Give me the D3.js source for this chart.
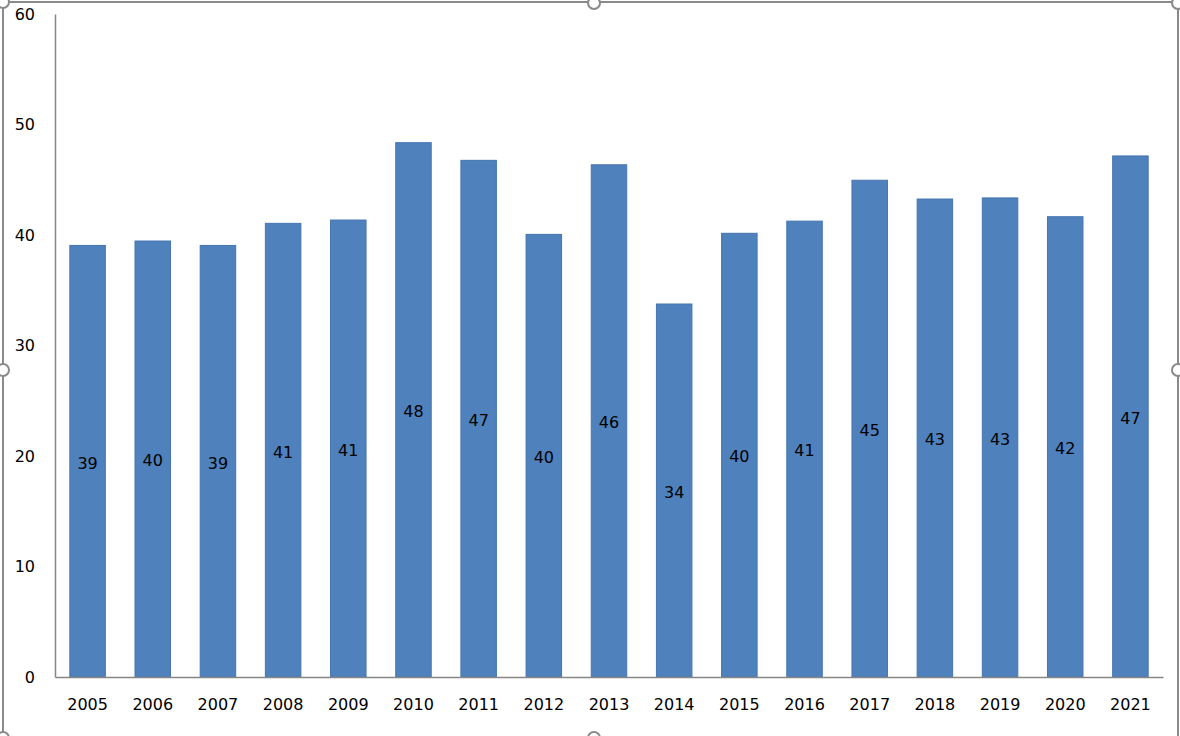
<!DOCTYPE html>
<html><head><meta charset="utf-8">
<script src="https://cdn.jsdelivr.net/npm/d3@7"></script>
<style>body{margin:0;background:#fff;}svg{display:block;}</style>
</head><body>
<svg id="c" width="1180" height="736"></svg>
<script>
const categories = ["2005","2006","2007","2008","2009","2010","2011","2012","2013","2014","2015","2016","2017","2018","2019","2020","2021"];
const values = [39.1,39.5,39.1,41.1,41.4,48.4,46.8,40.1,46.4,33.8,40.2,41.3,45.0,43.3,43.4,41.7,47.2];
const yTicks = [0,10,20,30,40,50,60];

const svg = d3.select("#c");
const m = {left:55, right:1163, top:14, bottom:677};
const font = "'DejaVu Sans', 'Noto Sans', sans-serif";
const fs = 16;

const x = d3.scaleBand().domain(categories).range([m.left, m.right]).paddingInner(0.44).paddingOuter(0.22);
const y = d3.scaleLinear().domain([0,60]).range([m.bottom, m.top]);

// bars
svg.append("g").selectAll("rect").data(values).join("rect")
  .attr("x",(d,i)=>x(categories[i])+0.5)
  .attr("y",d=>y(d)+0.5)
  .attr("width",x.bandwidth()-1)
  .attr("height",d=>y(0)-y(d)-0.5)
  .attr("fill","#4f81bd").attr("stroke","#4575b0").attr("stroke-width",1);

// labels
svg.append("g").selectAll("text").data(values).join("text")
  .attr("x",(d,i)=>x(categories[i])+x.bandwidth()/2)
  .attr("y",d=>(y(d)+y(0))/2 + 2)
  .attr("dy","0.35em").attr("text-anchor","middle")
  .attr("font-family",font).attr("font-size",fs).attr("fill","#000")
  .text(d=>Math.round(d));

// y axis
const ya = d3.axisLeft(y).tickValues(yTicks).tickSize(0).tickPadding(20);
const gy = svg.append("g").attr("transform",`translate(${m.left},0)`).call(ya);
gy.select(".domain").attr("stroke","#868686").attr("stroke-width",1.5);
gy.selectAll("text").attr("font-family",font).attr("font-size",fs).attr("fill","#000");

// x axis
const xa = d3.axisBottom(x).tickSize(0).tickPadding(22);
const gx = svg.append("g").attr("transform",`translate(0,${m.bottom})`).call(xa);
gx.select(".domain").attr("stroke","#868686").attr("stroke-width",1.5);
gx.selectAll("text").attr("font-family",font).attr("font-size",fs).attr("fill","#000");

// selection frame
svg.append("rect").attr("x",3).attr("y",2).attr("width",1175).attr("height",740)
  .attr("fill","none").attr("stroke","#8a8a8a").attr("stroke-width",2);
const handles = [[3,2],[594,3],[1178,3],[3,370],[1178,370],[3,738],[594,738]];
svg.append("g").selectAll("circle").data(handles).join("circle")
  .attr("cx",d=>d[0]).attr("cy",d=>d[1]).attr("r",6)
  .attr("fill","#fff").attr("stroke","#8a8a8a").attr("stroke-width",2);
</script>
</body></html>
